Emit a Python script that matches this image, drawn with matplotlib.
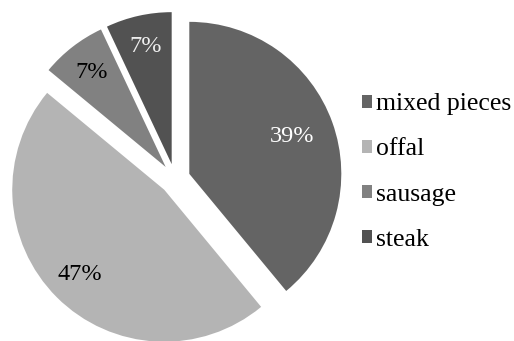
import matplotlib
matplotlib.use('Agg')
import matplotlib.pyplot as plt
import numpy as np

plt.rcParams['font.family'] = ['Liberation Serif', 'DejaVu Serif']

labels = ['mixed pieces', 'offal', 'sausage', 'steak']
shares = [39, 47, 7, 7]
colors = ['#646464', '#b4b4b4', '#818181', '#525252']
pct_colors = ['white', 'black', 'black', '#eeeeee']
pct_dist = [0.72, 0.79, 0.79, 0.79]

fig = plt.figure(figsize=(5.14, 3.41), dpi=100)
ax = fig.add_axes([0, 0, 1, 1])

explode = 0.1
wedges, texts, autotexts = ax.pie(shares, colors=colors, explode=[explode] * 4,
                                  startangle=90, counterclock=False,
                                  autopct='%1.0f%%', pctdistance=0.8,
                                  textprops={'fontsize': 17.5})
# label position inside each exploded wedge
for w, t, c, d in zip(wedges, autotexts, pct_colors, pct_dist):
    mid = np.deg2rad((w.theta1 + w.theta2) / 2)
    t.set_position(((explode + d) * np.cos(mid), (explode + d) * np.sin(mid)))
    t.set_color(c)

# pie centre at about (175, 179) px, radius 152 px
cx, cy, r = 175, 179, 152
ax.set_xlim(-cx / r, (514 - cx) / r)
ax.set_ylim(-(341 - cy) / r, cy / r)
ax.set_aspect('equal')
ax.axis('off')

fig.legend(wedges, labels, loc='center left', bbox_to_anchor=(362 / 514, 1 - 172 / 341),
           frameon=False, fontsize=18.5, handlelength=0.4, handleheight=0.4,
           handletextpad=0.15, labelspacing=0.9, borderaxespad=0, borderpad=0)

fig.savefig('out.png', dpi=100)
